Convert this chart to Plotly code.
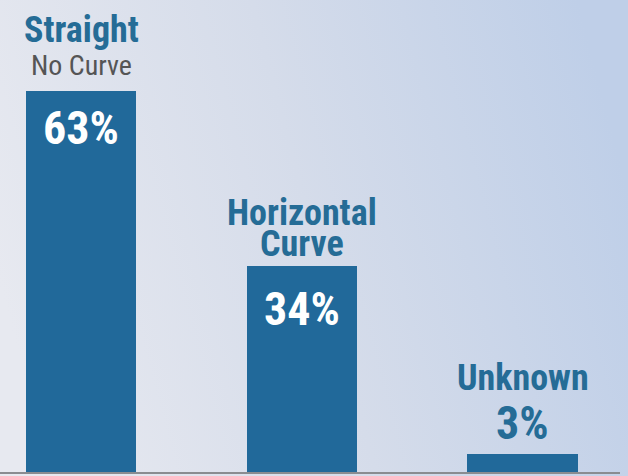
import base64
import plotly.graph_objects as go

# Share of cases by road alignment
categories = ["Straight", "Horizontal", "Unknown"]
subtitles = ["No Curve", "Curve", ""]
shares = [63, 34, 3]
share_labels = ["63%", "34%", "3%"]

W, H = 628, 476
BAR = "#21699a"
TITLE_BLUE = "#256c96"
NARROW = "Liberation Sans Narrow, Arial Narrow, Roboto Condensed, DejaVu Sans Condensed, sans-serif"

# soft left-to-right background wash
svg = (
    f'<svg xmlns="http://www.w3.org/2000/svg" width="{W}" height="{H}">'
    '<defs><linearGradient id="g" x1="0" y1="0.6" x2="1" y2="0.4">'
    '<stop offset="0" stop-color="#e7e9f0"/>'
    '<stop offset="0.5" stop-color="#d5dcea"/>'
    '<stop offset="1" stop-color="#bfcfe8"/>'
    '</linearGradient></defs>'
    f'<rect width="{W}" height="{H}" fill="url(#g)"/></svg>'
)
bg_uri = "data:image/svg+xml;base64," + base64.b64encode(svg.encode()).decode()

xs = list(range(len(categories)))

fig = go.Figure(
    go.Bar(
        x=xs,
        y=shares,
        width=0.5,
        marker=dict(color=BAR, line=dict(width=0)),
        hoverinfo="skip",
    )
)

# label offsets (pixels above/below each bar top)
title_shift = [61, 53, 76]
sub_shift = [25, 22, None]
pct_shift = [-37, -43, 31]
pct_inside = [True, True, False]

anns = []
for i, (cat, sub, val, lab) in enumerate(zip(categories, subtitles, shares, share_labels)):
    anns.append(dict(
        x=xs[i], y=val, text=f"<b>{cat}</b>", showarrow=False,
        yanchor="middle", yshift=title_shift[i],
        font=dict(family=NARROW, size=36, color=TITLE_BLUE),
    ))
    if sub:
        is_blue = i == 1
        anns.append(dict(
            x=xs[i], y=val, text=f"<b>{sub}</b>" if is_blue else sub, showarrow=False,
            yanchor="middle", yshift=sub_shift[i],
            font=dict(family=NARROW, size=36 if is_blue else 28,
                      color=TITLE_BLUE if is_blue else "#555555"),
        ))
    anns.append(dict(
        x=xs[i], y=val, text=f"<b>{lab}</b>", showarrow=False,
        yanchor="middle", yshift=pct_shift[i],
        font=dict(family=NARROW, size=46,
                  color="white" if pct_inside[i] else TITLE_BLUE),
    ))

fig.update_layout(
    width=W, height=H,
    margin=dict(l=0, r=8, t=0, b=4),
    paper_bgcolor="#d5dcea",
    plot_bgcolor="rgba(0,0,0,0)",
    showlegend=False,
    bargap=0,
    annotations=anns,
    images=[dict(
        source=bg_uri, xref="paper", yref="paper",
        x=0, y=1, sizex=W / 620, sizey=H / 472,
        xanchor="left", yanchor="top", sizing="stretch", layer="below",
    )],
    xaxis=dict(
        range=[-81.1 / 220.75, (620 - 81.1) / 220.75],
        showgrid=False, zeroline=False, showticklabels=False, ticks="",
        showline=True, linecolor="#8a8c90", linewidth=1.5,
        fixedrange=True,
    ),
    yaxis=dict(
        range=[0, 472 / 6.05],
        showgrid=False, zeroline=False, showticklabels=False, ticks="",
        showline=False, fixedrange=True,
    ),
)

fig.write_html("out.html")
